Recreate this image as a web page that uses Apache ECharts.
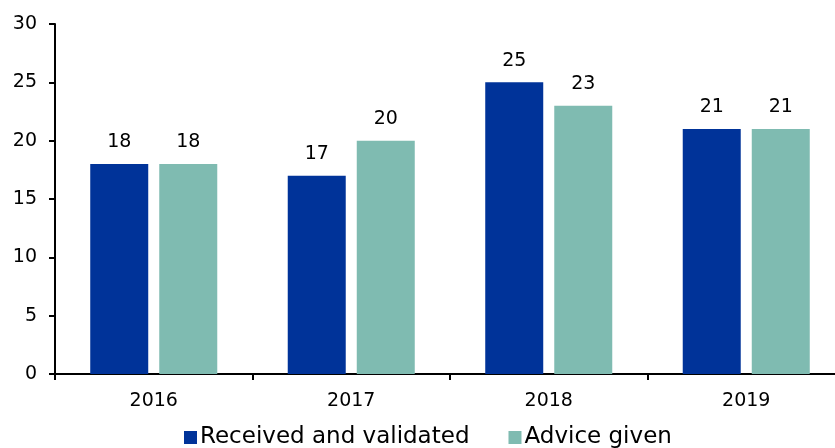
<!DOCTYPE html>
<html>
<head>
<meta charset="utf-8">
<script src="https://cdn.jsdelivr.net/npm/echarts@6/dist/echarts.min.js"></script>
<style>
  html, body { margin: 0; padding: 0; background: #fff; }
  #chart { width: 835px; height: 448px; }
</style>
</head>
<body>
<div id="chart"></div>
<script>
const years = ['2016', '2017', '2018', '2019']
const received = [18, 17, 25, 21]
const advice = [18, 20, 23, 21]

const font = 'DejaVu Sans, Verdana, sans-serif'
const chart = echarts.init(document.getElementById('chart'))

function barSeries(name, data, color) {
  return {
    name,
    type: 'bar',
    data,
    barWidth: 58,
    barGap: '19%',
    itemStyle: { color },
    label: {
      show: true,
      position: 'top',
      distance: 12,
      color: '#000',
      fontFamily: font,
      fontSize: 19
    }
  }
}

chart.setOption({
  animation: false,
  grid: { left: 55, top: 24, right: -10, bottom: 74, containLabel: false, outerBoundsMode: 'none' },
  legend: {
    top: 426,
    left: 184,
    padding: 0,
    itemWidth: 13,
    itemHeight: 13,
    itemGap: 39,
    icon: 'rect',
    textStyle: { color: '#000', fontFamily: font, fontSize: 23, padding: [0, 0, 0, -2] },
    data: ['Received and validated', 'Advice given']
  },
  xAxis: {
    type: 'category',
    data: years,
    axisLine: { lineStyle: { color: '#000', width: 2 } },
    axisTick: { show: true, length: 6, lineStyle: { color: '#000', width: 2 } },
    axisLabel: { color: '#000', fontFamily: font, fontSize: 19, margin: 18 }
  },
  yAxis: {
    type: 'value',
    min: 0,
    max: 30,
    interval: 5,
    axisLine: { show: true, lineStyle: { color: '#000', width: 2 } },
    axisTick: { show: true, length: 6, lineStyle: { color: '#000', width: 2 } },
    axisLabel: { color: '#000', fontFamily: font, fontSize: 19, margin: 18 },
    splitLine: { show: false }
  },
  series: [
    barSeries('Received and validated', received, '#003399'),
    barSeries('Advice given', advice, '#7fbbb1')
  ]
})
</script>
</body>
</html>
